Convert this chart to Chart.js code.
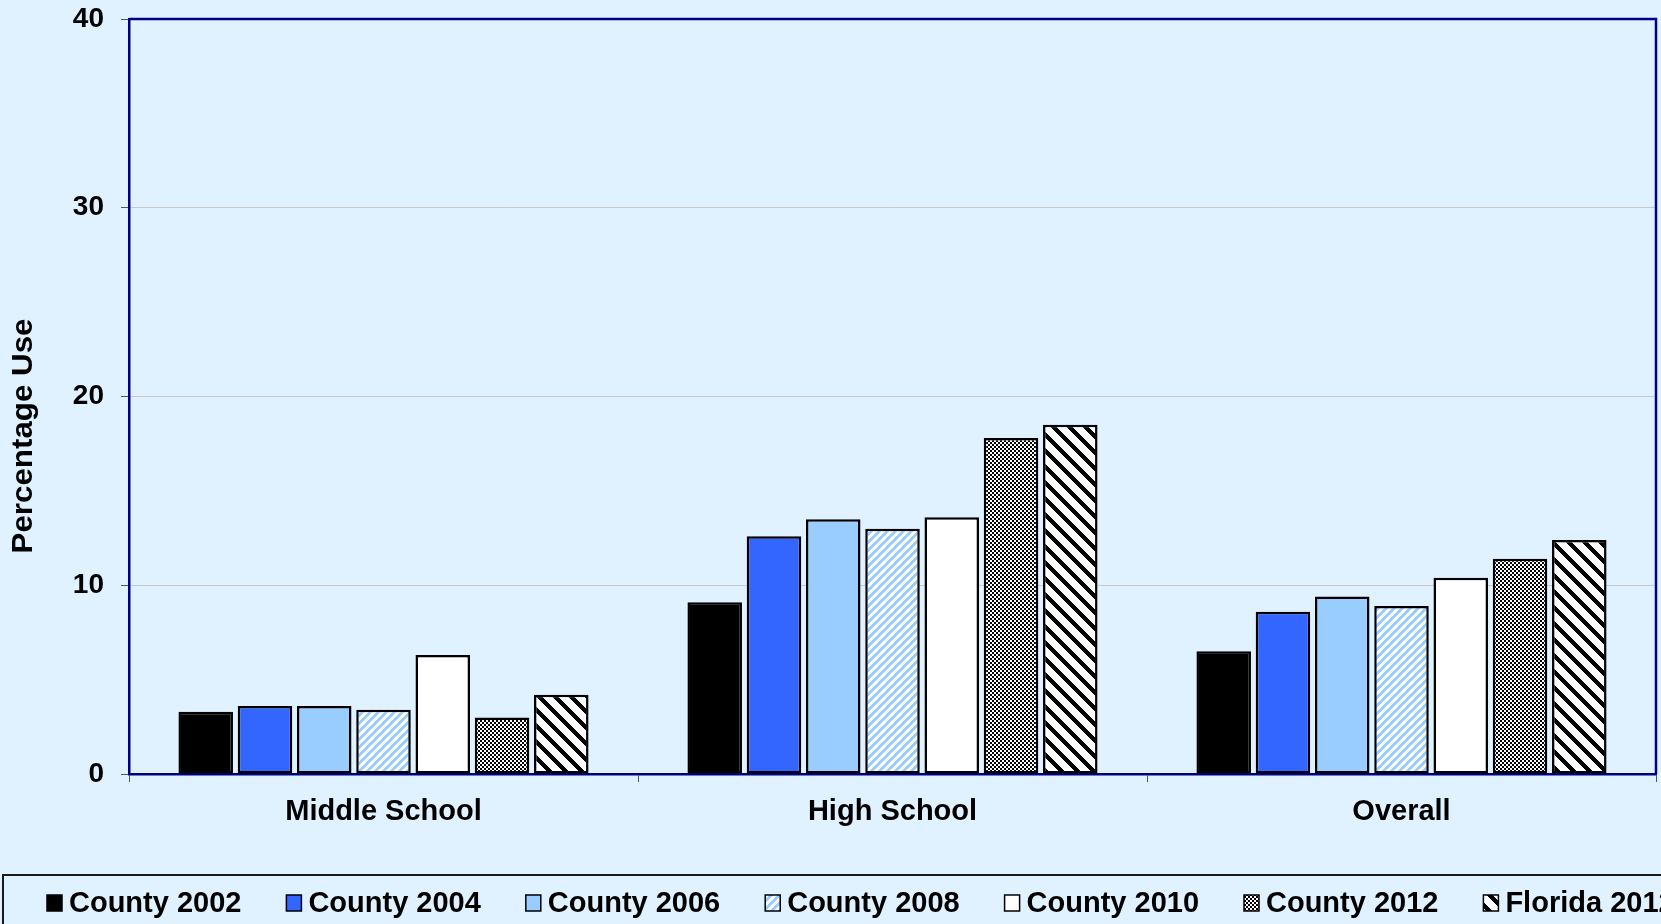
<!DOCTYPE html>
<html>
<head>
<meta charset="utf-8">
<script src="https://cdn.jsdelivr.net/npm/chart.js@4/dist/chart.umd.min.js"></script>
<style>
  html, body { margin: 0; padding: 0; background: #E0F2FF; overflow: hidden; }
  canvas { display: block; }
</style>
</head>
<body>
<canvas id="c" width="1661" height="924"></canvas>
<script>
// ---- Data ----
const categories = ['Middle School', 'High School', 'Overall'];
const seriesLabels = ['County 2002', 'County 2004', 'County 2006', 'County 2008', 'County 2010', 'County 2012', 'Florida 2012'];
const county2002 = [3.3, 9.1, 6.5];
const county2004 = [3.6, 12.6, 8.6];
const county2006 = [3.6, 13.5, 9.4];
const county2008 = [3.4, 13.0, 8.9];
const county2010 = [6.3, 13.6, 10.4];
const county2012 = [3.0, 17.8, 11.4];
const florida2012 = [4.2, 18.5, 12.4];
const yMin = 0, yMax = 40, yStep = 10;
const yTitle = 'Percentage Use';

// ---- Patterns ----
function makePattern(size, painter) {
  const c = document.createElement('canvas');
  c.width = size; c.height = size;
  const g = c.getContext('2d');
  const img = g.createImageData(size, size);
  for (let y = 0; y < size; y++) {
    for (let x = 0; x < size; x++) {
      const col = painter(x, y);
      const i = (y * size + x) * 4;
      img.data[i] = col[0]; img.data[i + 1] = col[1]; img.data[i + 2] = col[2]; img.data[i + 3] = 255;
    }
  }
  g.putImageData(img, 0, 0);
  return document.getElementById('c').getContext('2d').createPattern(c, 'repeat');
}
const WHITE = [255, 255, 255], BLACK = [0, 0, 0], LBLUE = [153, 204, 255];
const stripeBlue = makePattern(8, (x, y) => ((x + y) % 8) < 4 ? LBLUE : WHITE);
const checker = makePattern(4, (x, y) => ((Math.floor(x / 2) + Math.floor(y / 2)) % 2) ? WHITE : BLACK);
const stripeBlack = makePattern(16, (x, y) => (((x - y) % 16) + 16) % 16 < 6 ? BLACK : WHITE);

const fills = ['#000000', '#3366FF', '#99CCFF', stripeBlue, '#FFFFFF', checker, stripeBlack];
const seriesData = [county2002, county2004, county2006, county2008, county2010, county2012, florida2012];

const FONT = '"Liberation Sans", Arial, sans-serif';

const bgPlugin = {
  id: 'bg',
  beforeDraw(chart) {
    const ctx = chart.ctx;
    ctx.save();
    ctx.fillStyle = '#E0F2FF';
    ctx.fillRect(0, 0, chart.width, chart.height);
    ctx.restore();
  },
  afterDraw(chart) {
    const ctx = chart.ctx;
    const a = chart.chartArea;
    ctx.save();
    // plot frame top & right
    ctx.strokeStyle = '#000080';
    ctx.lineWidth = 2.5;
    ctx.beginPath();
    ctx.moveTo(a.left, a.top);
    ctx.lineTo(a.right, a.top);
    ctx.lineTo(a.right, a.bottom);
    ctx.stroke();

    // y title
    ctx.fillStyle = '#000';
    ctx.font = 'bold 29px ' + FONT;
    ctx.textAlign = 'center';
    ctx.textBaseline = 'middle';
    ctx.translate(24, 436);
    ctx.rotate(-Math.PI / 2);
    ctx.scale(1.08, 1);
    ctx.fillText(yTitle, 0, 0);
    ctx.restore();

    // legend box
    ctx.save();
    ctx.strokeStyle = '#1a1a1a';
    ctx.lineWidth = 2;
    ctx.strokeRect(3, 875, 1800, 200);
    ctx.font = 'bold 29px ' + FONT;
    ctx.textBaseline = 'middle';
    ctx.textAlign = 'left';
    chart.data.datasets.forEach((ds, i) => {
      const x0 = 47 + i * 239.4;
      const yc = 903;
      ctx.fillStyle = ds.backgroundColor;
      ctx.fillRect(x0, yc - 8, 15, 16);
      ctx.strokeStyle = '#000';
      ctx.lineWidth = 1.5;
      ctx.strokeRect(x0, yc - 8, 15, 16);
      ctx.fillStyle = '#000';
      ctx.fillText(ds.label, x0 + 22, yc + 1);
    });
    ctx.restore();
  }
};

new Chart(document.getElementById('c'), {
  type: 'bar',
  data: {
    labels: categories,
    datasets: seriesLabels.map((lab, i) => ({
      label: lab,
      data: seriesData[i],
      backgroundColor: fills[i],
      borderColor: '#000',
      borderWidth: 2.5,
      borderSkipped: false,
      barPercentage: 0.92,
      categoryPercentage: 0.815
    }))
  },
  options: {
    responsive: false,
    devicePixelRatio: 1,
    animation: false,
    layout: { padding: { top: 19, right: 5, left: 0, bottom: 0 } },
    plugins: { legend: { display: false }, tooltip: { enabled: false }, title: { display: false } },
    scales: {
      x: {
        offset: true,
        grid: { offset: true, drawOnChartArea: false, drawTicks: true, tickLength: 8, color: '#555', tickColor: '#555' },
        border: { color: '#000080', width: 2.5 },
        ticks: { color: '#000', font: { family: FONT, size: 29, weight: 'bold' }, padding: 13, maxRotation: 0 },
        afterFit(s) { s.height = 150; }
      },
      y: {
        min: yMin, max: yMax,
        grid: { color: '#c8c8c8', lineWidth: 1, tickColor: '#555', tickLength: 8 },
        border: { color: '#000080', width: 2.5 },
        ticks: { stepSize: yStep, color: '#000', font: { family: FONT, size: 28, weight: 'bold', lineHeight: 0.05 }, padding: 17 },
        afterFit(s) { s.width = 129; }
      }
    }
  },
  plugins: [bgPlugin]
});
</script>
</body>
</html>
